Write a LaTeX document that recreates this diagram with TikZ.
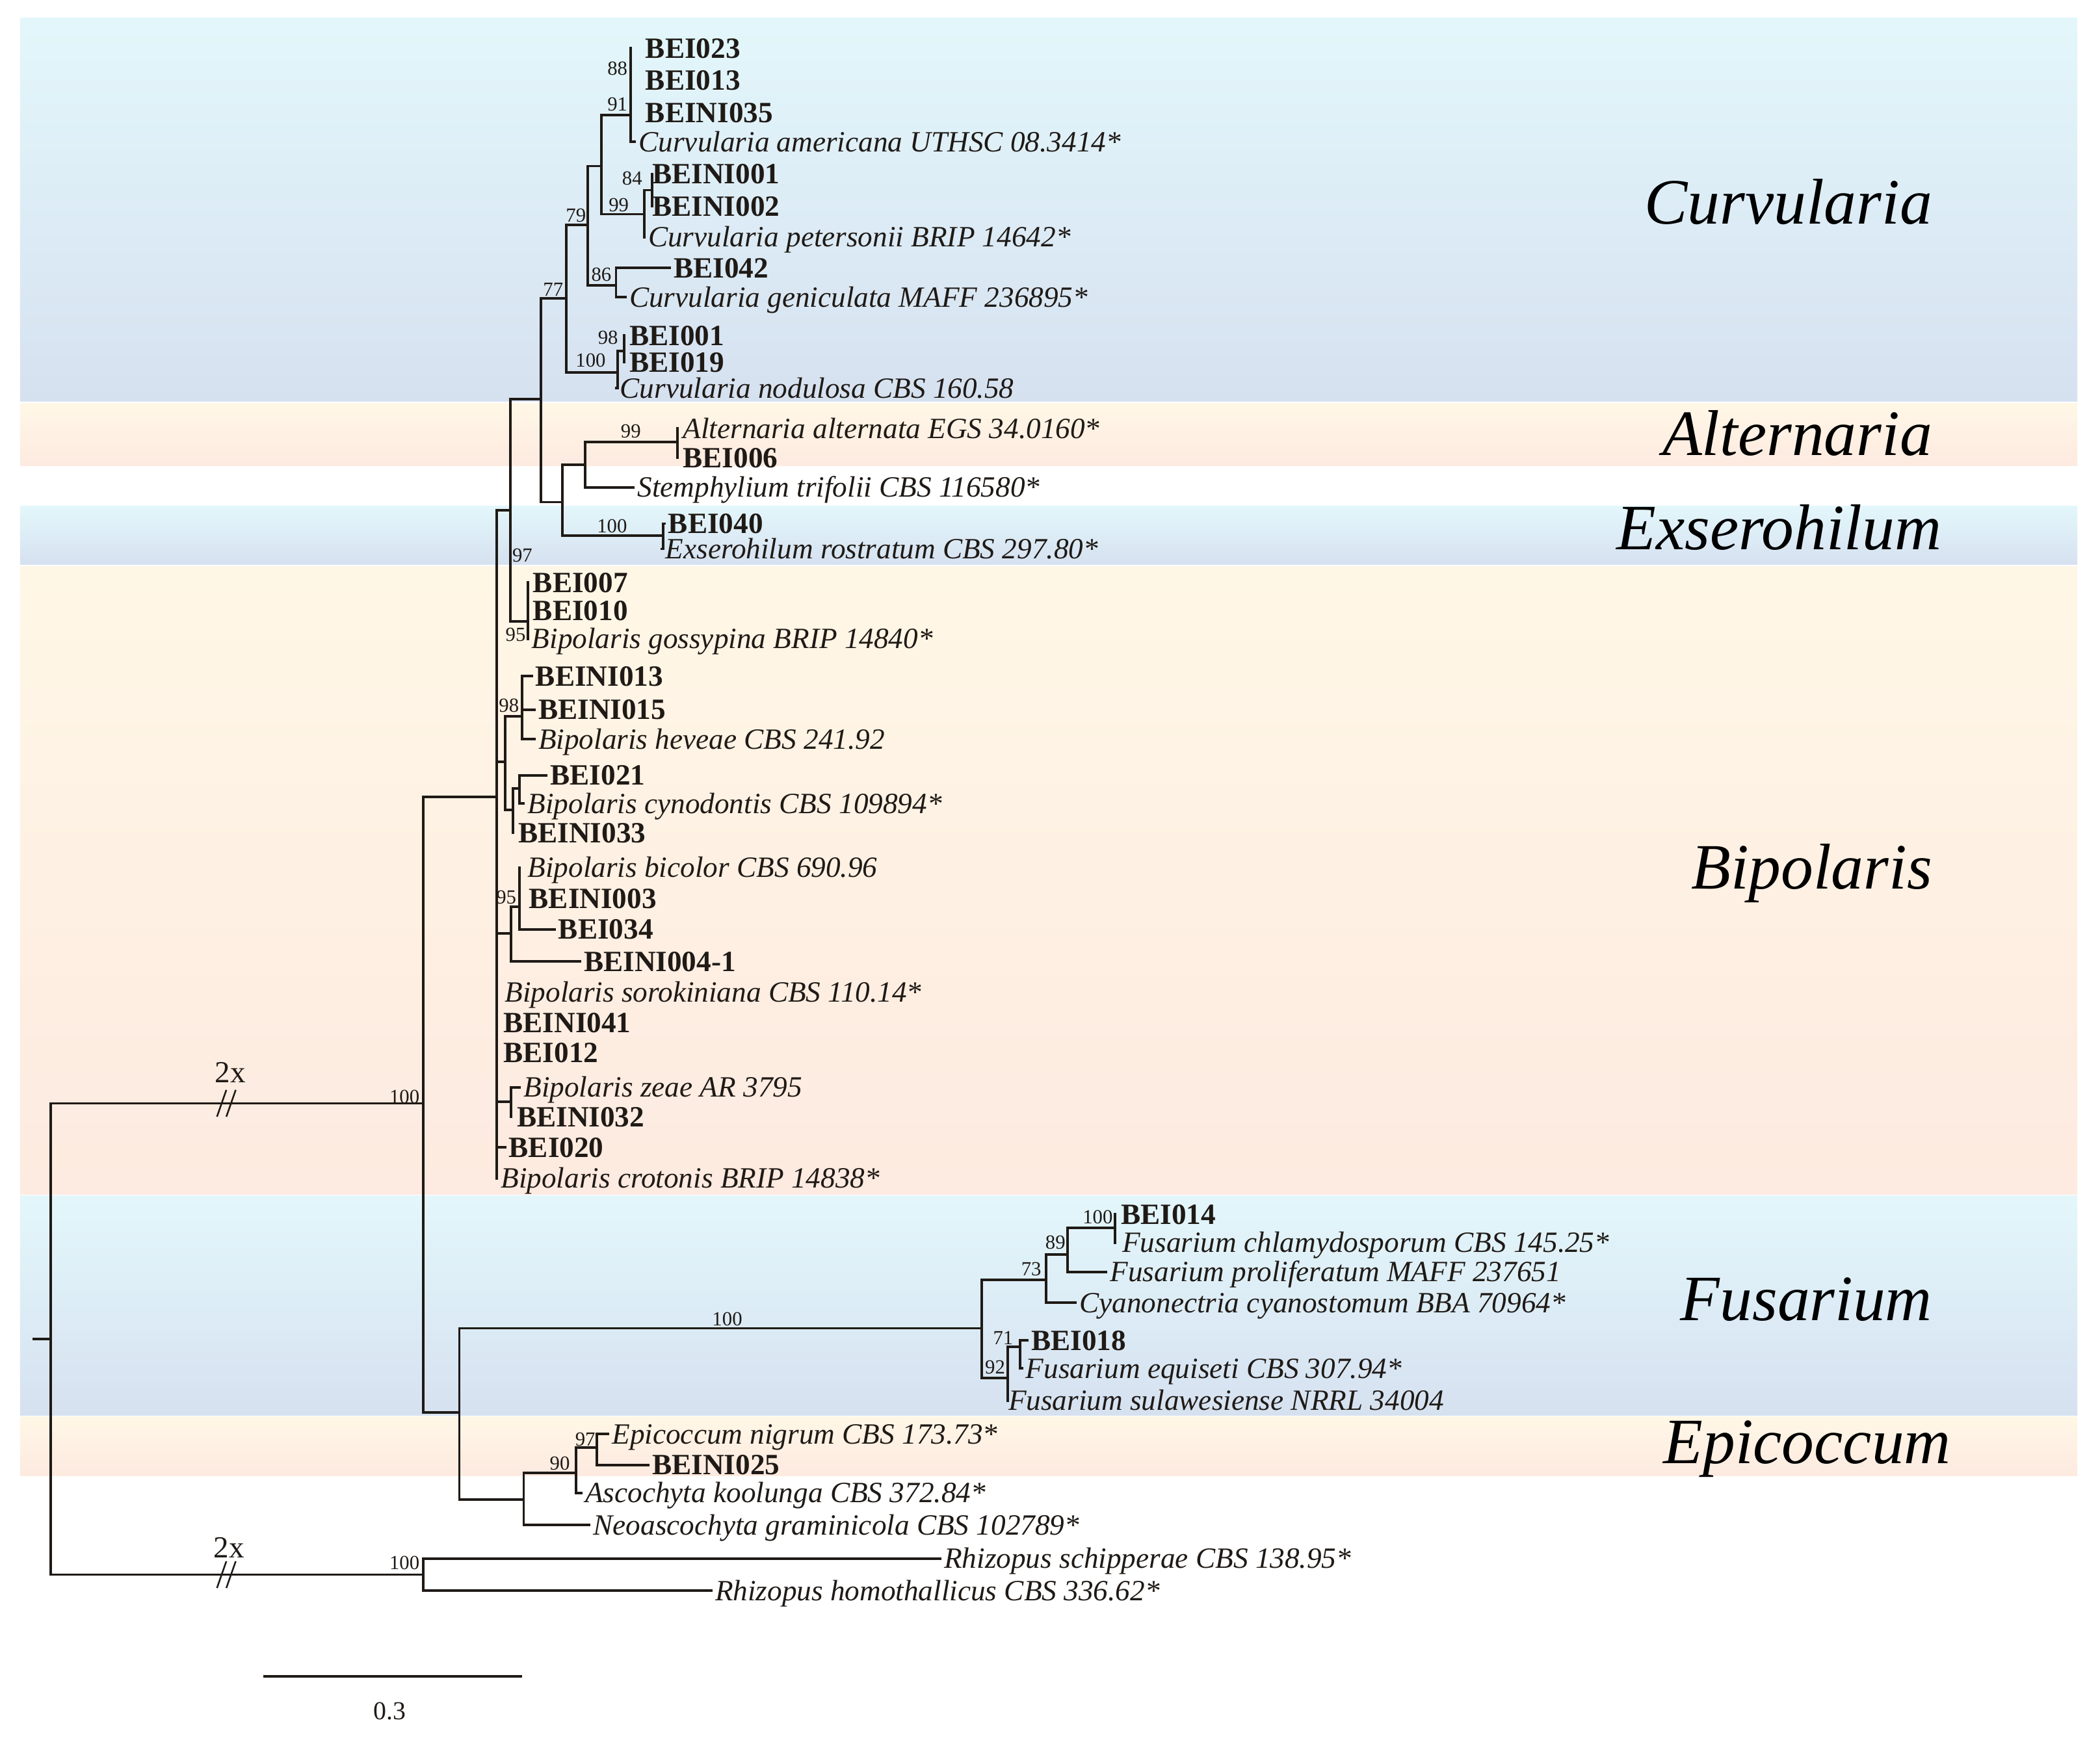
\documentclass[tikz,border=0pt]{standalone}
\usepackage{fontspec}
\setmainfont{Liberation Serif}
\definecolor{treecol}{HTML}{1F1A16}
\definecolor{blueTop}{HTML}{E3F7FB}
\definecolor{blueBot}{HTML}{D6E1F0}
\definecolor{peachTop}{HTML}{FFF7E6}
\definecolor{peachBot}{HTML}{FDEAE0}
\tikzset{
  br/.style={draw=treecol, line width=1.05pt, line cap=rect},
  brk/.style={draw=treecol, line width=0.7pt},
  leafb/.style={anchor=west, inner xsep=1.5pt, inner ysep=0pt, text height=8.3pt, text depth=0pt,
     font=\fontsize{12.5}{14}\selectfont\bfseries, text=treecol},
  leafi/.style={anchor=west, inner xsep=1.5pt, inner ysep=0pt, text height=8.3pt, text depth=0pt,
     font=\fontsize{12.5}{14}\selectfont\itshape, text=treecol},
  sup/.style={inner sep=0pt, font=\fontsize{8.5}{9}\selectfont, text=treecol},
  clade/.style={anchor=base east, inner sep=0pt, font=\fontsize{27.5}{30}\selectfont\itshape, text=black},
  band/.style={draw=none},
}
\begin{document}
\begin{tikzpicture}[x=0.02cm, y=-0.02cm]
\useasboundingbox (0,0) rectangle (1568,1301);
\fill[white] (0,0) rectangle (1568,1301);
% background bands
\shade[band, top color=blueTop, bottom color=blueBot] (15,13.5) rectangle (1551,300);
\shade[band, top color=peachTop, bottom color=peachBot] (15,301) rectangle (1551,348);
\shade[band, top color=blueTop, bottom color=blueBot] (15,378) rectangle (1551,421.5);
\shade[band, top color=peachTop, bottom color=peachBot] (15,423) rectangle (1551,892);
\shade[band, top color=blueTop, bottom color=blueBot] (15,893) rectangle (1551,1057);
\shade[band, top color=peachTop, bottom color=peachBot] (15,1058) rectangle (1551,1102);

% clade names
\node[clade] (tCurv) at (1443,167) {Curvularia};
\node[clade] (tAlt) at (1443,340) {Alternaria};
\node[clade] (tExs) at (1450,410.5) {Exserohilum};
\node[clade] (tBip) at (1443,664) {Bipolaris};
\node[clade] (tFus) at (1443,986) {Fusarium};
\node[clade] (tEpi) at (1457,1093) {Epicoccum};

% leaves
\node[leafb] (bei023) at (479,36) {BEI023};
\node[leafb] (bei013) at (479,60) {BEI013};
\node[leafb] (beini035) at (479,84) {BEINI035};
\node[leafi] (camer) at (474,106) {Curvularia americana UTHSC 08.3414*};
\node[leafb] (beini001) at (484,130) {BEINI001};
\node[leafb] (beini002) at (484,154) {BEINI002};
\node[leafi] (cpeter) at (481,177) {Curvularia petersonii BRIP 14642*};
\node[leafb] (bei042) at (500,200) {BEI042};
\node[leafi] (cgenic) at (467,222) {Curvularia geniculata MAFF 236895*};
\node[leafb] (bei001) at (467,250.5) {BEI001};
\node[leafb] (bei019) at (467,270.5) {BEI019};
\node[leafi] (cnodul) at (460,290) {Curvularia nodulosa CBS 160.58};
\node[leafi] (aalter) at (507,320) {Alternaria alternata EGS 34.0160*};
\node[leafb] (bei006) at (507,342) {BEI006};
\node[leafi] (strif) at (473,364) {Stemphylium trifolii CBS 116580*};
\node[leafb] (bei040) at (496,391) {BEI040};
\node[leafi] (erostr) at (494,410) {Exserohilum rostratum CBS 297.80*};
\node[leafb] (bei007) at (395,435) {BEI007};
\node[leafb] (bei010) at (395,456) {BEI010};
\node[leafi] (bgoss) at (394,477) {Bipolaris gossypina BRIP 14840*};
\node[leafb] (beini013) at (397,505) {BEINI013};
\node[leafb] (beini015) at (399,530) {BEINI015};
\node[leafi] (bhev) at (399,552) {Bipolaris heveae CBS 241.92};
\node[leafb] (bei021) at (408,579) {BEI021};
\node[leafi] (bcyn) at (391,600) {Bipolaris cynodontis CBS 109894*};
\node[leafb] (beini033) at (384,622) {BEINI033};
\node[leafi] (bbic) at (391,648) {Bipolaris bicolor CBS 690.96};
\node[leafb] (beini003) at (392,671) {BEINI003};
\node[leafb] (bei034) at (414,694) {BEI034};
\node[leafb] (beini004) at (433,718) {BEINI004-1};
\node[leafi] (bsorok) at (374,741) {Bipolaris sorokiniana CBS 110.14*};
\node[leafb] (beini041) at (373,764) {BEINI041};
\node[leafb] (bei012) at (373,786) {BEI012};
\node[leafi] (bzeae) at (388,812) {Bipolaris zeae AR 3795};
\node[leafb] (beini032) at (383,834) {BEINI032};
\node[leafb] (bei020) at (377,857) {BEI020};
\node[leafi] (bcrot) at (371,880) {Bipolaris crotonis BRIP 14838*};
\node[leafb] (bei014) at (834,907) {BEI014};
\node[leafi] (fchlam) at (835,928) {Fusarium chlamydosporum CBS 145.25*};
\node[leafi] (fprol) at (826,950) {Fusarium proliferatum MAFF 237651};
\node[leafi] (ccyan) at (803,973) {Cyanonectria cyanostomum BBA 70964*};
\node[leafb] (bei018) at (767,1001) {BEI018};
\node[leafi] (fequi) at (763,1022) {Fusarium equiseti CBS 307.94*};
\node[leafi] (fsula) at (750,1046) {Fusarium sulawesiense NRRL 34004};
\node[leafi] (enigr) at (454,1071) {Epicoccum nigrum CBS 173.73*};
\node[leafb] (beini025) at (484,1094) {BEINI025};
\node[leafi] (akool) at (434,1115) {Ascochyta koolunga CBS 372.84*};
\node[leafi] (ngram) at (440,1139) {Neoascochyta graminicola CBS 102789*};
\node[leafi] (rschip) at (702,1164) {Rhizopus schipperae CBS 138.95*};
\node[leafi] (rhomo) at (531,1188) {Rhizopus homothallicus CBS 336.62*};

% internal nodes
\coordinate (rootstub) at (25,1000);
\coordinate (nRoot) at (38,1000);
\coordinate (nIn) at (316,824);
\coordinate (nRh) at (316,1176);
\coordinate (nA) at (371,595);
\coordinate (nB) at (381,381);
\coordinate (nC) at (404,298);
\coordinate (nD) at (423,223);
\coordinate (nF) at (439,168);
\coordinate (nG) at (449,124);
\coordinate (nI) at (471,86);
\coordinate (nJ) at (481,160);
\coordinate (nK) at (487,142);
\coordinate (nH) at (460,213);
\coordinate (nL) at (461,278);
\coordinate (nM) at (466,262);
\coordinate (nE) at (420,375);
\coordinate (nN) at (437,347);
\coordinate (nP) at (506,330);
\coordinate (nO) at (495,400);
\coordinate (nG1) at (394,464);
\coordinate (nQ) at (377,569);
\coordinate (nQ1) at (390,535);
\coordinate (nR) at (383,605);
\coordinate (nS) at (388,589);
\coordinate (nT) at (381.6,697);
\coordinate (nU) at (388,677);
\coordinate (nV) at (381.6,823);
\coordinate (nFE) at (343,1055);
\coordinate (nW) at (733,992);
\coordinate (nX) at (781,956);
\coordinate (nY) at (797,937);
\coordinate (nZ) at (832.6,917);
\coordinate (nAA) at (752.5,1029);
\coordinate (nAB) at (761.5,1006);
\coordinate (nAC) at (391,1120);
\coordinate (nAD) at (430,1100);
\coordinate (nAE) at (445.6,1081);

% root
\draw[br] (rootstub) -- (nRoot);
\draw[br] (nRoot |- nIn) -- (nRoot |- nRh);
\draw[br] (nRoot |- nIn) -- (nIn);
\draw[br] (nRoot |- nRh) -- (nRh);
% ingroup
\draw[br] (nIn |- nA) -- (nIn |- nFE);
\draw[br] (nIn |- nA) -- (nA);
\draw[br] (nIn |- nFE) -- (nFE);
% A
\draw[br] (nA |- nB) -- (nA |- bcrot.west);
\draw[br] (nA |- nB) -- (nB);
\draw[br] (nA |- nQ) -- (nQ);
\draw[br] (nA |- nT) -- (nT);
\draw[br] (nA |- nV) -- (nV);
\draw[br] (nA |- bei020.west) -- (bei020.west);
% B
\draw[br] (nB |- nC) -- (nB |- nG1);
\draw[br] (nB |- nC) -- (nC);
\draw[br] (nB |- nG1) -- (nG1);
% C
\draw[br] (nC |- nD) -- (nC |- nE);
\draw[br] (nC |- nD) -- (nD);
\draw[br] (nC |- nE) -- (nE);
% D
\draw[br] (nD |- nF) -- (nD |- nL);
\draw[br] (nD |- nF) -- (nF);
\draw[br] (nD |- nL) -- (nL);
% F
\draw[br] (nF |- nG) -- (nF |- nH);
\draw[br] (nF |- nG) -- (nG);
\draw[br] (nF |- nH) -- (nH);
% G
\draw[br] (nG |- nI) -- (nG |- nJ);
\draw[br] (nG |- nI) -- (nI);
\draw[br] (nG |- nJ) -- (nJ);
% I
\draw[br] (nI |- bei023.west) -- (nI |- camer.west);
\draw[br] (nI |- camer.west) -- (camer.west);
% J
\draw[br] (nJ |- nK) -- (nJ |- cpeter.west);
\draw[br] (nJ |- nK) -- (nK);
\draw[br] (nJ |- cpeter.west) -- (cpeter.west);
% K
\draw[br] (nK |- beini001.west) -- (nK |- beini002.west);
% H
\draw[br] (nH |- bei042.west) -- (nH |- cgenic.west);
\draw[br] (nH |- bei042.west) -- (bei042.west);
\draw[br] (nH |- cgenic.west) -- (cgenic.west);
% L
\draw[br] (nL |- nM) -- (nL |- cnodul.west);
\draw[br] (nL |- nM) -- (nM);
\draw[br] (nL |- cnodul.west) -- (cnodul.west);
% M
\draw[br] (nM |- bei001.west) -- (nM |- bei019.west);
% E
\draw[br] (nE |- nN) -- (nE |- nO);
\draw[br] (nE |- nN) -- (nN);
\draw[br] (nE |- nO) -- (nO);
% N
\draw[br] (nN |- nP) -- (nN |- strif.west);
\draw[br] (nN |- nP) -- (nP);
\draw[br] (nN |- strif.west) -- (strif.west);
% P
\draw[br] (nP |- aalter.west) -- (nP |- bei006.west);
% O
\draw[br] (nO |- bei040.west) -- (nO |- erostr.west);
\draw[br] (nO |- bei040.west) -- (bei040.west);
\draw[br] (nO |- erostr.west) -- (erostr.west);
% G1
\draw[br] (nG1 |- bei007.west) -- (nG1 |- bgoss.west);
% Q
\draw[br] (nQ |- nQ1) -- (nQ |- nR);
\draw[br] (nQ |- nQ1) -- (nQ1);
\draw[br] (nQ |- nR) -- (nR);
% Q1
\draw[br] (nQ1 |- beini013.west) -- (nQ1 |- bhev.west);
\draw[br] (nQ1 |- beini013.west) -- (beini013.west);
\draw[br] (nQ1 |- beini015.west) -- (beini015.west);
\draw[br] (nQ1 |- bhev.west) -- (bhev.west);
% R
\draw[br] (nR |- nS) -- (nR |- beini033.west);
\draw[br] (nR |- nS) -- (nS);
% S
\draw[br] (nS |- bei021.west) -- (nS |- bcyn.west);
\draw[br] (nS |- bei021.west) -- (bei021.west);
\draw[br] (nS |- bcyn.west) -- (bcyn.west);
% T
\draw[br] (nT |- nU) -- (nT |- beini004.west);
\draw[br] (nT |- nU) -- (nU);
\draw[br] (nT |- beini004.west) -- (beini004.west);
% U
\draw[br] (nU |- bbic.west) -- (nU |- bei034.west);
\draw[br] (nU |- bei034.west) -- (bei034.west);
% V
\draw[br] (nV |- bzeae.west) -- (nV |- beini032.west);
\draw[br] (nV |- bzeae.west) -- (bzeae.west);
% FE
\draw[br] (nFE |- nW) -- (nFE |- nAC);
\draw[br] (nFE |- nW) -- (nW);
\draw[br] (nFE |- nAC) -- (nAC);
% W
\draw[br] (nW |- nX) -- (nW |- nAA);
\draw[br] (nW |- nX) -- (nX);
\draw[br] (nW |- nAA) -- (nAA);
% X
\draw[br] (nX |- nY) -- (nX |- ccyan.west);
\draw[br] (nX |- nY) -- (nY);
\draw[br] (nX |- ccyan.west) -- (ccyan.west);
% Y
\draw[br] (nY |- nZ) -- (nY |- fprol.west);
\draw[br] (nY |- nZ) -- (nZ);
\draw[br] (nY |- fprol.west) -- (fprol.west);
% Z
\draw[br] (nZ |- bei014.west) -- (nZ |- fchlam.west);
% AA
\draw[br] (nAA |- nAB) -- (nAA |- fsula.west);
\draw[br] (nAA |- nAB) -- (nAB);
% AB
\draw[br] (nAB |- bei018.west) -- (nAB |- fequi.west);
\draw[br] (nAB |- bei018.west) -- (bei018.west);
\draw[br] (nAB |- fequi.west) -- (fequi.west);
% AC
\draw[br] (nAC |- nAD) -- (nAC |- ngram.west);
\draw[br] (nAC |- nAD) -- (nAD);
\draw[br] (nAC |- ngram.west) -- (ngram.west);
% AD
\draw[br] (nAD |- nAE) -- (nAD |- akool.west);
\draw[br] (nAD |- nAE) -- (nAE);
\draw[br] (nAD |- akool.west) -- (akool.west);
% AE
\draw[br] (nAE |- enigr.west) -- (nAE |- beini025.west);
\draw[br] (nAE |- enigr.west) -- (enigr.west);
\draw[br] (nAE |- beini025.west) -- (beini025.west);
% Rhizopus
\draw[br] (nRh |- rschip.west) -- (nRh |- rhomo.west);
\draw[br] (nRh |- rschip.west) -- (rschip.west);
\draw[br] (nRh |- rhomo.west) -- (rhomo.west);

% support values
\node[sup] (s88) at (461,51) {88};
\node[sup] (s91) at (461,78) {91};
\node[sup] (s84) at (472,133) {84};
\node[sup] (s99a) at (462,153) {99};
\node[sup] (s79) at (430,161) {79};
\node[sup] (s86) at (449,205) {86};
\node[sup] (s77) at (413,216) {77};
\node[sup] (s98a) at (454,252) {98};
\node[sup] (s100a) at (441,269) {100};
\node[sup] (s99b) at (471,322) {99};
\node[sup] (s100b) at (457,393) {100};
\node[sup] (s97a) at (390,415) {97};
\node[sup] (s95a) at (385,474) {95};
\node[sup] (s98b) at (380,527) {98};
\node[sup] (s95b) at (378,670) {95};
\node[sup] (s100c) at (302,819) {100};
\node[sup] (s100d) at (819.6,909) {100};
\node[sup] (s89) at (788,928) {89};
\node[sup] (s73) at (770,948) {73};
\node[sup] (s100e) at (543,985) {100};
\node[sup] (s71) at (749,999) {71};
\node[sup] (s92) at (743,1021) {92};
\node[sup] (s97b) at (437,1075) {97};
\node[sup] (s90) at (418,1093) {90};
\node[sup] (s100f) at (302,1167) {100};

% branch breaks
\node[inner sep=0pt, font=\fontsize{13}{14}\selectfont, text=treecol] (bx1) at (172,801) {2x};
\node[inner sep=0pt, font=\fontsize{13}{14}\selectfont, text=treecol] (bx2) at (171,1156) {2x};
\coordinate (k1) at (169,824);
\coordinate (k2) at (169,1176);
\draw[brk] ([shift={(-7,10)}]k1) -- ([shift={(0,-10)}]k1);
\draw[brk] ([shift={(0,10)}]k1) -- ([shift={(7,-10)}]k1);
\draw[brk] ([shift={(-7,10)}]k2) -- ([shift={(0,-10)}]k2);
\draw[brk] ([shift={(0,10)}]k2) -- ([shift={(7,-10)}]k2);

% scale bar
\coordinate (sb1) at (196.5,1252);
\coordinate (sb2) at (390,1252);
\draw[br, line cap=butt] (sb1) -- (sb2);
\node[inner sep=0pt, font=\fontsize{11}{12}\selectfont, text=treecol] (sbl) at (291,1278) {0.3};
\end{tikzpicture}
\end{document}
